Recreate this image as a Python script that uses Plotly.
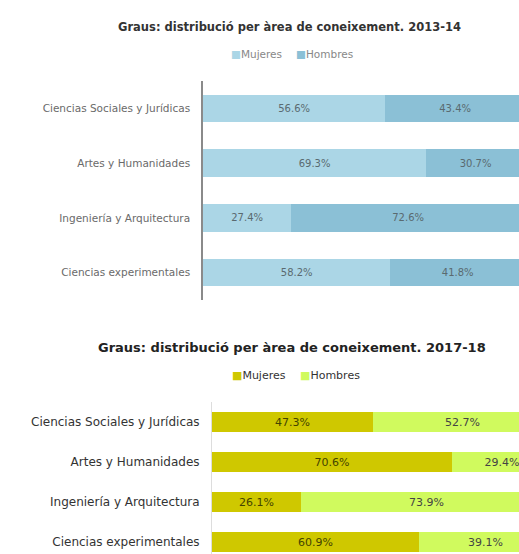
import plotly.graph_objects as go

# Data
areas = ['Ciencias Sociales y Jurídicas', 'Artes y Humanidades',
         'Ingeniería y Arquitectura', 'Ciencias experimentales']
mujeres_1314 = [56.6, 69.3, 27.4, 58.2]
hombres_1314 = [43.4, 30.7, 72.6, 41.8]
mujeres_1718 = [47.3, 70.6, 26.1, 60.9]
hombres_1718 = [52.7, 29.4, 73.9, 39.1]

title_1314 = 'Graus: distribució per àrea de coneixement. 2013-14'
title_1718 = 'Graus: distribució per àrea de coneixement. 2017-18'

colors_1314 = ['#abd6e6', '#8bc0d6']
colors_1718 = ['#cfc800', '#d0fa5e']

W, H = 519, 554
font = 'DejaVu Sans, sans-serif'


def xp(x):
    return x / W


def yp(y):
    return 1 - y / H


fig = go.Figure()


def add_bar(x, name, color, xa, ya, tcolor, tsize):
    fig.add_trace(go.Bar(
        y=areas, x=[v / 100 for v in x], name=name, orientation='h',
        marker=dict(color=color, line=dict(width=0)),
        text=[f'{v:.1f}%' for v in x], textposition='inside',
        insidetextanchor='middle', textangle=0,
        textfont=dict(size=tsize, color=tcolor, family=font),
        xaxis=xa, yaxis=ya, width=0.5, showlegend=False))


# 2013-14 (top)
add_bar(mujeres_1314, 'Mujeres', colors_1314[0], 'x', 'y', '#5a6a70', 10)
add_bar(hombres_1314, 'Hombres', colors_1314[1], 'x', 'y', '#5a6a70', 10)
# 2017-18 (bottom)
add_bar(mujeres_1718, 'Mujeres', colors_1718[0], 'x2', 'y2', '#444400', 11)
add_bar(hombres_1718, 'Hombres', colors_1718[1], 'x2', 'y2', '#444444', 11)


def legend_item(x, y, label, color, size, tcolor):
    return dict(text=f'<span style="color:{color}">■</span>{label}',
                x=xp(x), y=yp(y), xref='paper', yref='paper',
                xanchor='left', yanchor='middle', showarrow=False,
                font=dict(size=size, color=tcolor, family=font))


annotations = [
    dict(text=f'<b>{title_1314}</b>', x=xp(289), y=yp(27),
         xref='paper', yref='paper', showarrow=False, yanchor='middle',
         font=dict(size=11.5, color='#333333', family=font)),
    dict(text=f'<b>{title_1718}</b>', x=xp(292), y=yp(347),
         xref='paper', yref='paper', showarrow=False, yanchor='middle',
         font=dict(size=13, color='#222222', family=font)),
    legend_item(229, 54, 'Mujeres', colors_1314[0], 10.5, '#888888'),
    legend_item(294, 54, 'Hombres', colors_1314[1], 10.5, '#888888'),
    legend_item(230, 375, 'Mujeres', colors_1718[0], 11, '#333333'),
    legend_item(298, 375, 'Hombres', colors_1718[1], 11, '#333333'),
]

fig.update_layout(
    width=W, height=H, barmode='stack',
    margin=dict(l=0, r=0, t=0, b=0),
    paper_bgcolor='white', plot_bgcolor='white',
    font=dict(family=font, size=10, color='#555555'),
    showlegend=False,
    uniformtext=dict(minsize=7, mode='show'),
    xaxis=dict(domain=[xp(203), 1], range=[0, (W - 203) / 322],
               visible=False),
    yaxis=dict(domain=[yp(300), yp(81)], range=[3.5, -0.5],
               showline=True, linecolor='#8a8a8a', linewidth=1.5,
               ticks='', showgrid=False, ticklabelstandoff=9,
               tickfont=dict(size=10.5, color='#6a6a6a')),
    xaxis2=dict(domain=[xp(212), 1], range=[0, (W - 212) / 340],
                visible=False, anchor='y2'),
    yaxis2=dict(domain=[0, yp(402)], range=[3.3, -0.5], anchor='x2',
                showline=True, linecolor='#dddddd', linewidth=1,
                ticks='', showgrid=False, ticklabelstandoff=9,
                tickfont=dict(size=12, color='#333333')),
    annotations=annotations,
)

# no page margin, so the figure fills the whole window
fig.write_html('out.html', config={'displayModeBar': False},
               post_script="document.body.style.margin='0';")
